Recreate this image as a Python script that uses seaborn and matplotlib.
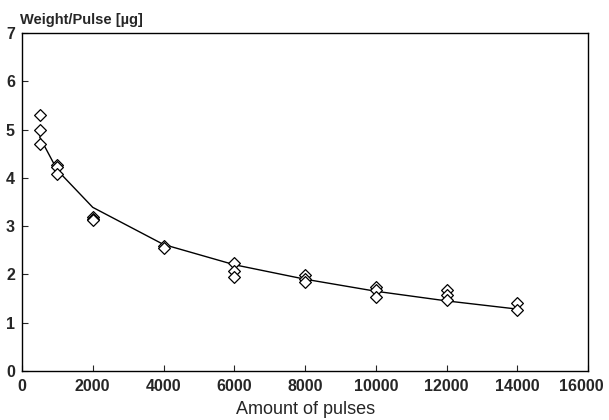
import numpy as np
import pandas as pd
import matplotlib
matplotlib.use('Agg')
import matplotlib.pyplot as plt
import matplotlib.transforms as mtransforms
import seaborn as sns

# measured points (weight per pulse, ug)
pulses = [500, 500, 500,
          1000, 1000, 1000,
          2000, 2000, 2000,
          4000, 4000,
          6000, 6000, 6000,
          8000, 8000, 8000,
          10000, 10000, 10000,
          12000, 12000, 12000,
          14000, 14000]
weight = [5.31, 5.00, 4.71,
          4.27, 4.22, 4.09,
          3.19, 3.15, 3.12,
          2.58, 2.55,
          2.23, 2.08, 1.95,
          1.98, 1.90, 1.85,
          1.73, 1.68, 1.53,
          1.68, 1.58, 1.47,
          1.40, 1.27]

# fitted curve
fit_x = [500, 1000, 2000, 4000, 6000, 8000, 10000, 12000, 14000]
fit_y = [4.85, 4.16, 3.39, 2.62, 2.20, 1.90, 1.65, 1.45, 1.28]

pts = pd.DataFrame({'pulses': pulses, 'weight': weight})
fit = pd.DataFrame({'pulses': fit_x, 'weight': fit_y})

sns.set_style('ticks')
plt.rcParams['font.family'] = ['Liberation Sans', 'DejaVu Sans']

fig = plt.figure(figsize=(6.09, 4.2), dpi=100)
ax = fig.add_axes([0.036, 0.117, 0.93, 0.804])

sns.lineplot(data=fit, x='pulses', y='weight', color='black', linewidth=1.0, ax=ax)
sns.scatterplot(data=pts, x='pulses', y='weight', marker='D', s=36,
                facecolors='white', edgecolor='black', linewidth=0.9, ax=ax, zorder=3)

ax.set_xlim(0, 16000)
ax.set_ylim(0, 7)
ax.set_xticks(np.arange(0, 16001, 2000))
ax.set_yticks(np.arange(0, 8, 1))
ax.tick_params(direction='in', length=4, width=0.8, labelsize=11.5)
for lab in ax.get_xticklabels() + ax.get_yticklabels():
    lab.set_fontweight('bold')
ax.tick_params(axis='y', pad=5)
ax.tick_params(axis='x', pad=6)

# nudge the last x label so it stays inside the figure
last = ax.get_xticklabels()[-1]
last.set_transform(last.get_transform() + mtransforms.ScaledTranslation(-7 / 100, 0, fig.dpi_scale_trans))

for s in ax.spines.values():
    s.set_linewidth(1.0)
    s.set_color('black')

ax.set_xlabel('Amount of pulses', fontsize=13, labelpad=5)
ax.set_ylabel('')
fig.text(0.033, 0.935, 'Weight/Pulse [µg]', fontsize=10.5, fontweight='bold', ha='left', va='bottom')

fig.savefig('out.png', dpi=100)
